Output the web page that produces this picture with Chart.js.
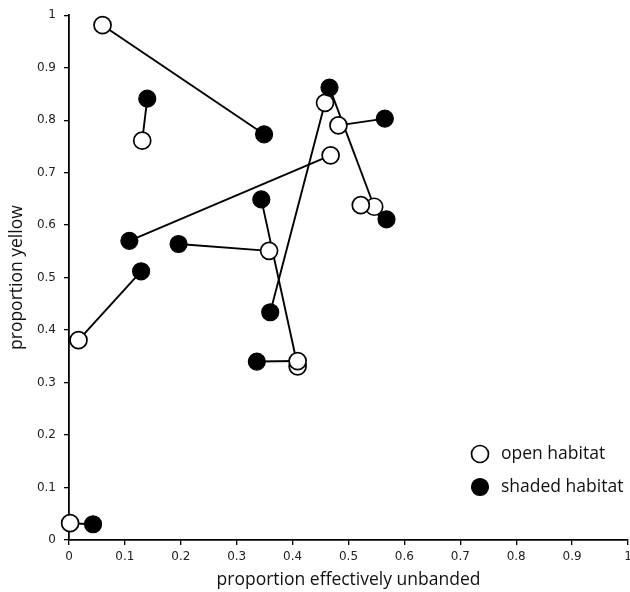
<!DOCTYPE html>
<html>
<head>
<meta charset="utf-8">
<script src="https://cdn.jsdelivr.net/npm/chart.js@4.4.1/dist/chart.umd.min.js"></script>
<style>
  html, body { margin: 0; padding: 0; background: #fff; overflow: hidden; }
  #wrap { width: 630px; height: 592px; overflow: hidden; }
  canvas { display: block; }
</style>
</head>
<body>
<div id="wrap"><canvas id="c" width="630" height="592"></canvas></div>
<script>
// ---- data (pairs: open[i] is linked to shaded[i]) ----
const openX   = [0.060, 0.131, 0.017, 0.002, 0.468, 0.358, 0.409, 0.409, 0.458, 0.482, 0.546, 0.522];
const openY   = [0.981, 0.761, 0.381, 0.032, 0.733, 0.551, 0.331, 0.341, 0.833, 0.790, 0.635, 0.638];
const shadedX = [0.349, 0.140, 0.129, 0.043, 0.108, 0.196, 0.344, 0.336, 0.360, 0.565, 0.466, 0.568];
const shadedY = [0.773, 0.841, 0.512, 0.030, 0.570, 0.564, 0.649, 0.340, 0.434, 0.803, 0.862, 0.611];
const xTickLabels = ['0','0.1','0.2','0.3','0.4','0.5','0.6','0.7','0.8','0.9','1'];
const yTickLabels = ['0','0.1','0.2','0.3','0.4','0.5','0.6','0.7','0.8','0.9','1'];
const seriesNames = ['open habitat', 'shaded habitat'];

const pairLines = openX.map((_, i) => ({
  type: 'scatter',
  showLine: true,
  data: [{x: openX[i], y: openY[i]}, {x: shadedX[i], y: shadedY[i]}],
  borderColor: '#000',
  borderWidth: 1.9,
  pointRadius: 0,
  pointHoverRadius: 0,
  clip: false,
  order: 3
}));

const openSet = {
  type: 'scatter',
  label: seriesNames[0],
  data: openX.map((x, i) => ({x, y: openY[i]})),
  pointRadius: 8.5,
  pointBorderWidth: 1.7,
  pointBackgroundColor: '#fff',
  pointBorderColor: '#000',
  showLine: false,
  clip: false,
  order: 2
};
const shadedSet = {
  type: 'scatter',
  label: seriesNames[1],
  data: shadedX.map((x, i) => ({x, y: shadedY[i]})),
  pointRadius: 8.5,
  pointBorderWidth: 1.2,
  pointBackgroundColor: '#000',
  pointBorderColor: '#000',
  showLine: false,
  clip: false,
  order: 1
};

const legendPlugin = {
  id: 'insideLegend',
  afterDatasetsDraw(chart) {
    const ctx = chart.ctx;
    const a = chart.chartArea;
    const items = [openSet, shadedSet];
    const x0 = a.right - 148;
    const y0 = a.bottom - 86;
    const dy = 33;
    ctx.save();
    items.forEach((ds, k) => {
      const cy = y0 + k * dy;
      ctx.beginPath();
      ctx.arc(x0, cy, ds.pointRadius, 0, Math.PI * 2);
      ctx.fillStyle = ds.pointBackgroundColor;
      ctx.fill();
      ctx.lineWidth = ds.pointBorderWidth;
      ctx.strokeStyle = ds.pointBorderColor;
      ctx.stroke();
      ctx.fillStyle = '#111';
      ctx.font = '17.5px "Open Sans", sans-serif';
      ctx.textBaseline = 'middle';
      ctx.textAlign = 'left';
      ctx.fillText(ds.label, x0 + 21, cy);
    });
    ctx.restore();
  }
};

const tickFont = { family: '"DejaVu Sans", Verdana, sans-serif', size: 12 };
const titleFont = { family: '"Open Sans", sans-serif', size: 17.5 };

new Chart(document.getElementById('c'), {
  type: 'scatter',
  data: { datasets: [...pairLines, openSet, shadedSet] },
  options: {
    responsive: false,
    animation: false,
    devicePixelRatio: 1,
    layout: { autoPadding: false, padding: { top: 15, right: 0, left: 0, bottom: 0 } },
    plugins: {
      legend: { display: false },
      tooltip: { enabled: false }
    },
    scales: {
      x: {
        type: 'linear', min: 0, max: 1,
        afterFit(s) { s.height = 52; s.paddingRight = 2; s.paddingLeft = 0; },
        ticks: {
          stepSize: 0.1,
          color: '#222',
          font: tickFont,
          padding: 5,
          maxRotation: 0,
          callback: (v) => xTickLabels[Math.round(v * 10)]
        },
        grid: { drawOnChartArea: false, drawTicks: true, tickLength: 5, color: '#000', lineWidth: 1.3 },
        border: { display: true, color: '#000', width: 1.8 },
        title: { display: true, text: 'proportion effectively unbanded', color: '#111', font: titleFont, padding: { top: 0, bottom: 1 } }
      },
      y: {
        type: 'linear', min: 0, max: 1,
        afterFit(s) { s.width = 69; },
        ticks: {
          stepSize: 0.1,
          color: '#222',
          font: tickFont,
          padding: 8,
          callback: (v) => yTickLabels[Math.round(v * 10)]
        },
        grid: { drawOnChartArea: false, drawTicks: true, tickLength: 5, color: '#000', lineWidth: 1.3 },
        border: { display: true, color: '#000', width: 1.8 },
        title: { display: true, text: 'proportion yellow', color: '#111', font: titleFont, padding: { top: 7, bottom: 0 } }
      }
    }
  },
  plugins: [legendPlugin]
});
</script>
</body>
</html>
